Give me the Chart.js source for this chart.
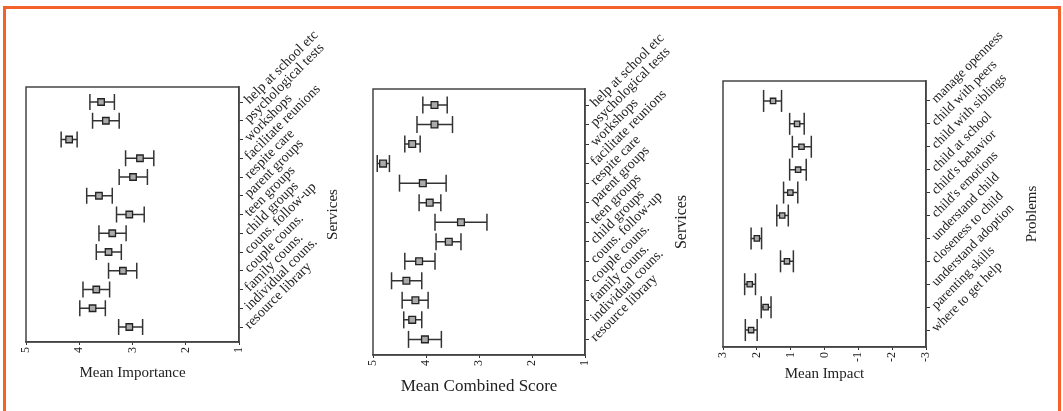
<!DOCTYPE html>
<html>
<head>
<meta charset="utf-8">
<script src="https://cdn.jsdelivr.net/npm/chart.js@4.4.1/dist/chart.umd.min.js"></script>
<style>
html, body { margin: 0; padding: 0; background: #fff; }
#wrap { position: relative; width: 1063px; height: 411px; overflow: hidden; }
#wrap canvas { position: absolute; top: 0; }
#frame { position: absolute; left: 3px; top: 6px; width: 1052px; height: 430px; border: 3px solid #f3622b; pointer-events: none; }
</style>
</head>
<body>
<div id="wrap">
  <canvas id="importanceChart" width="360" height="411" style="left:0"></canvas>
  <canvas id="combinedChart" width="355" height="411" style="left:350px"></canvas>
  <canvas id="impactChart" width="358" height="411" style="left:705px"></canvas>
  <div id="frame"></div>
</div>
<script>
// categories
const services = ['help at school etc', 'psychological tests', 'workshops', 'facilitate reunions',
  'respite care', 'parent groups', 'teen groups', 'child groups', 'couns. follow-up',
  'couple couns.', 'family couns.', 'individual couns.', 'resource library'];
const problems = ['manage openness', 'child with peers', 'child with siblings', 'child at school',
  "child's behavior", "child's emotions", 'understand child', 'closeness to child',
  'understand adoption', 'parenting skills', 'where to get help'];

// Mean Importance (mean, lower and upper end of the error bar)
const importanceMean = [3.59, 3.50, 4.19, 2.86, 2.99, 3.63, 3.06, 3.38, 3.45, 3.18, 3.68, 3.75, 3.06];
const importanceLow  = [3.34, 3.25, 4.04, 2.60, 2.72, 3.38, 2.78, 3.12, 3.21, 2.92, 3.43, 3.51, 2.81];
const importanceHigh = [3.80, 3.75, 4.34, 3.13, 3.25, 3.86, 3.30, 3.63, 3.68, 3.45, 3.93, 3.99, 3.26];

// Mean Combined Score
const combinedMean = [3.84, 3.84, 4.26, 4.81, 4.06, 3.93, 3.34, 3.57, 4.13, 4.37, 4.20, 4.26, 4.02];
const combinedLow  = [3.60, 3.50, 4.11, 4.69, 3.62, 3.72, 2.85, 3.34, 3.83, 4.08, 3.96, 4.08, 3.71];
const combinedHigh = [4.06, 4.17, 4.40, 4.92, 4.50, 4.13, 3.83, 3.81, 4.40, 4.65, 4.45, 4.42, 4.33];

// Mean Impact
const impactMean = [1.52, 0.81, 0.68, 0.78, 1.01, 1.25, 2.00, 1.11, 2.21, 1.74, 2.17];
const impactLow  = [1.27, 0.60, 0.39, 0.54, 0.79, 1.07, 1.86, 0.92, 2.04, 1.58, 1.99];
const impactHigh = [1.80, 1.03, 0.95, 1.03, 1.21, 1.41, 2.17, 1.30, 2.36, 1.87, 2.34];

// x tick labels
const scoreTicks = [5, 4, 3, 2, 1];
const impactTicks = [3, 2, 1, 0, -1, -2, -3];

const SERIF = "'Liberation Serif', 'Times New Roman', serif";
Chart.defaults.font.family = SERIF;
Chart.defaults.color = '#222';

// box round the plot area
const frameBox = {
    id: 'frameBox',
    afterDraw(chart) {
        const a = chart.chartArea;
        const ctx = chart.ctx;
        ctx.save();
        ctx.strokeStyle = '#444';
        ctx.lineWidth = 1.5;
        ctx.strokeRect(a.left, a.top, a.right - a.left, a.bottom - a.top);
        ctx.restore();
    }
};

// vertical axis title on the right, reading bottom to top
const sideTitle = {
    id: 'sideTitle',
    afterDraw(chart, args, opts) {
        const a = chart.chartArea;
        const ctx = chart.ctx;
        ctx.save();
        ctx.translate(a.right + opts.offset, (a.top + a.bottom) / 2);
        ctx.rotate(-Math.PI / 2);
        ctx.font = opts.size + 'px ' + SERIF;
        ctx.fillStyle = '#222';
        ctx.textAlign = 'center';
        ctx.textBaseline = 'middle';
        ctx.fillText(opts.text, 0, 0);
        ctx.restore();
    }
};

function errorPanel(id, cats, means, lows, highs, p) {
    const whiskers = [];
    const caps = [];
    cats.forEach((c, i) => {
        whiskers.push({ x: lows[i], y: i }, { x: highs[i], y: i }, { x: NaN, y: NaN });
        caps.push({ x: lows[i], y: i }, { x: highs[i], y: i });
    });
    const centers = means.map((m, i) => ({ x: m, y: i }));

    new Chart(document.getElementById(id), {
        type: 'scatter',
        data: {
            datasets: [
                {
                    data: centers,
                    pointStyle: 'rect',
                    pointRadius: p.box,
                    pointBackgroundColor: '#aaa',
                    pointBorderColor: '#222',
                    pointBorderWidth: 1.3
                },
                {
                    data: caps,
                    pointStyle: 'line',
                    pointRotation: 90,
                    pointRadius: p.cap,
                    pointBorderColor: '#333',
                    pointBorderWidth: 1.5
                },
                {
                    data: whiskers,
                    showLine: true,
                    spanGaps: false,
                    pointRadius: 0,
                    borderColor: '#333',
                    borderWidth: 1.5
                }
            ]
        },
        options: {
            responsive: false,
            animation: false,
            events: [],
            layout: { padding: p.pad },
            plugins: {
                legend: { display: false },
                tooltip: { enabled: false },
                sideTitle: { text: p.yTitle, offset: p.yTitleOffset, size: p.yTitleSize }
            },
            scales: {
                x: {
                    type: 'linear',
                    reverse: true,
                    min: p.xTicks[p.xTicks.length - 1],
                    max: p.xTicks[0],
                    afterBuildTicks: s => { s.ticks = p.xTicks.map(v => ({ value: v })); },
                    afterFit: s => { s.height = p.xHeight; },
                    ticks: { minRotation: 90, maxRotation: 90, padding: 2, font: { size: 12 }, color: '#222' },
                    grid: { drawOnChartArea: false, tickLength: 3, color: '#333' },
                    border: { color: '#444', width: 1.5 },
                    title: { display: true, text: p.xTitle, color: '#222', font: { size: p.xTitleSize }, padding: { top: 4, bottom: 4 } }
                },
                y: {
                    type: 'linear',
                    position: 'right',
                    reverse: true,
                    min: -p.rowPadTop,
                    max: cats.length - 1 + p.rowPadBottom,
                    afterBuildTicks: s => { s.ticks = cats.map((c, i) => ({ value: i })); },
                    afterFit: s => { s.width = 100; },
                    ticks: {
                        autoSkip: false,
                        minRotation: 45,
                        maxRotation: 45,
                        padding: 4,
                        font: { size: p.labelSize },
                        color: '#222',
                        callback: v => cats[v]
                    },
                    grid: { drawOnChartArea: false, tickLength: 4, color: '#333' },
                    border: { color: '#444', width: 1.5 }
                }
            }
        },
        plugins: [frameBox, sideTitle]
    });
}

errorPanel('importanceChart', services, importanceMean, importanceLow, importanceHigh, {
    xTicks: scoreTicks, xTitle: 'Mean Importance', xTitleSize: 15, xHeight: 44,
    yTitle: 'Services', yTitleSize: 15, yTitleOffset: 94,
    pad: { left: 26, top: 87, right: 21, bottom: 25 },
    rowPadTop: 0.8, rowPadBottom: 0.8, labelSize: 14, cap: 8, box: 4.6
});

errorPanel('combinedChart', services, combinedMean, combinedLow, combinedHigh, {
    xTicks: scoreTicks, xTitle: 'Mean Combined Score', xTitleSize: 17, xHeight: 46,
    yTitle: 'Services', yTitleSize: 16, yTitleOffset: 97,
    pad: { left: 23, top: 89, right: 20, bottom: 10 },
    rowPadTop: 0.82, rowPadBottom: 0.8, labelSize: 14, cap: 8.5, box: 4.8
});

errorPanel('impactChart', problems, impactMean, impactLow, impactHigh, {
    xTicks: impactTicks, xTitle: 'Mean Impact', xTitleSize: 15, xHeight: 40,
    yTitle: 'Problems', yTitleSize: 15, yTitleOffset: 106,
    pad: { left: 18, top: 81, right: 37, bottom: 24 },
    rowPadTop: 0.87, rowPadBottom: 0.74, labelSize: 13.5, cap: 11, box: 3.8
});
</script>
</body>
</html>
